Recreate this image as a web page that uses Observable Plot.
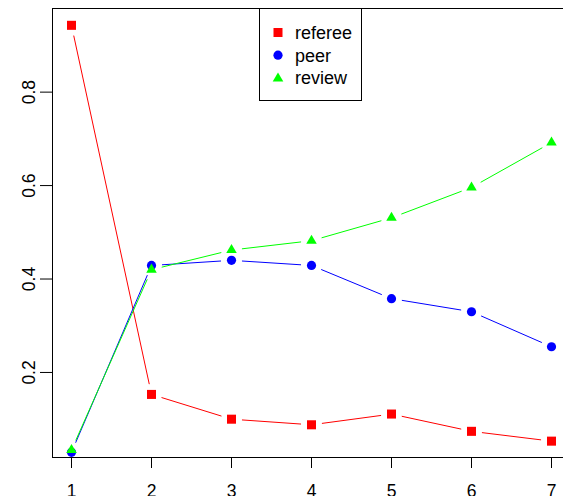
<!DOCTYPE html>
<html>
<head>
<meta charset="utf-8">
<script src="https://cdn.jsdelivr.net/npm/d3@7"></script>
<script src="https://cdn.jsdelivr.net/npm/@observablehq/plot@0.6"></script>
<style>
  body { margin: 0; background: #fff; }
  #wrap { position: relative; width: 563px; height: 496px; overflow: hidden; font-family: "Liberation Sans", Arial, Helvetica, sans-serif; }
  #legend { position: absolute; left: 259px; top: 8px; width: 101px; height: 91px; border: 1px solid #000; background: #fff; box-sizing: content-box; }
</style>
</head>
<body>
<div id="wrap"></div>
<script>
const xs = [1, 2, 3, 4, 5, 6, 7];
const referee = [0.943, 0.153, 0.100, 0.088, 0.111, 0.074, 0.053];
const peer = [0.029, 0.429, 0.440, 0.429, 0.358, 0.330, 0.255];
const review = [0.034, 0.420, 0.462, 0.482, 0.531, 0.596, 0.692];
const seriesNames = ["referee", "peer", "review"];
const seriesColors = ["#ff0000", "#0000ff", "#00ff00"];
const seriesSymbols = ["square", "circle", "triangle"];
const xTicks = [1, 2, 3, 4, 5, 6, 7];
const yTicks = [0.2, 0.4, 0.6, 0.8];

const allValues = [referee, peer, review];
const data = [];
seriesNames.forEach((name, i) => {
  xs.forEach((x, j) => data.push({series: name, x, y: allValues[i][j]}));
});

const xDom = [0.7625, 7.15];
const yDom = [0.018, 0.979];
const font = "Liberation Sans, Arial, Helvetica, sans-serif";
const GAP = 10.5; // R type="b" gap around points (px)

// render transform: shorten each segment at both ends, like R's type = "b"
function gapRender(index, scales, values, dimensions, context, next) {
  const x1 = Array.from(values.x1), y1 = Array.from(values.y1);
  const x2 = Array.from(values.x2), y2 = Array.from(values.y2);
  for (const i of index) {
    const dx = x2[i] - x1[i], dy = y2[i] - y1[i];
    const len = Math.hypot(dx, dy);
    if (len > 2 * GAP) {
      const ux = dx / len, uy = dy / len;
      const ax = values.x1[i], ay = values.y1[i];
      x1[i] = ax + ux * GAP; y1[i] = ay + uy * GAP;
      x2[i] = values.x2[i] - ux * GAP; y2[i] = values.y2[i] - uy * GAP;
    }
  }
  return next(index, scales, {...values, x1, y1, x2, y2}, dimensions, context);
}

const marks = [];
// box (left, top, bottom)
marks.push(Plot.ruleX([xDom[0]], {stroke: "#000", strokeWidth: 1}));
marks.push(Plot.ruleY([yDom[1]], {stroke: "#000", strokeWidth: 1}));
marks.push(Plot.ruleY([yDom[0]], {stroke: "#000", strokeWidth: 1}));

const sizes = {square: 5.1, circle: 4.6, triangle: 3.9};
seriesNames.forEach((name, i) => {
  const d = data.filter(r => r.series === name);
  const segs = d.slice(1).map((p, j) => ({a: d[j], b: p}));
  marks.push(Plot.link(segs, {x1: s => s.a.x, y1: s => s.a.y, x2: s => s.b.x, y2: s => s.b.y, stroke: seriesColors[i], strokeWidth: 1, render: gapRender}));
  marks.push(Plot.dot(d, {x: "x", y: "y", fill: seriesColors[i], stroke: "none", symbol: () => seriesSymbols[i], r: sizes[seriesSymbols[i]]}));
});

marks.push(Plot.axisX(xTicks, {tickSize: 11, tickPadding: 16, fontSize: 17.5, stroke: "#000", fill: "#000", label: null, tickFormat: d => String(d)}));
marks.push(Plot.axisY(yTicks, {tickSize: 12, tickPadding: 6, fontSize: 17.5, tickRotate: -90, stroke: "#000", fill: "#000", label: null, tickFormat: d => d.toFixed(1)}));

const chart = Plot.plot({
  width: 563,
  height: 496,
  marginLeft: 52,
  marginRight: 0,
  marginTop: 8,
  marginBottom: 39,
  x: {domain: xDom, label: null},
  y: {domain: yDom, label: null},
  symbol: {type: "identity"},
  style: {fontFamily: font, background: "#fff", overflow: "visible"},
  marks
});
document.getElementById("wrap").appendChild(chart);

// legend
const leg = document.createElement("div");
leg.id = "legend";
const ns = "http://www.w3.org/2000/svg";
const lsvg = document.createElementNS(ns, "svg");
lsvg.setAttribute("width", 101);
lsvg.setAttribute("height", 91);
lsvg.style.display = "block";
seriesNames.forEach((name, i) => {
  const cy = 23.5 + i * 22.7;
  const cx = 18;
  let shape;
  if (seriesSymbols[i] === "square") {
    shape = document.createElementNS(ns, "rect");
    shape.setAttribute("x", cx - 4.5); shape.setAttribute("y", cy - 4.5);
    shape.setAttribute("width", 9); shape.setAttribute("height", 9);
  } else if (seriesSymbols[i] === "circle") {
    shape = document.createElementNS(ns, "circle");
    shape.setAttribute("cx", cx); shape.setAttribute("cy", cy); shape.setAttribute("r", 4.6);
  } else {
    shape = document.createElementNS(ns, "path");
    shape.setAttribute("d", `M${cx},${cy - 5.5}L${cx + 5.3},${cy + 3.5}L${cx - 5.3},${cy + 3.5}Z`);
  }
  shape.setAttribute("fill", seriesColors[i]);
  lsvg.appendChild(shape);
  const t = document.createElementNS(ns, "text");
  t.setAttribute("x", 35);
  t.setAttribute("y", cy + 6.3);
  t.setAttribute("font-size", 18);
  t.setAttribute("font-family", font);
  t.textContent = name;
  lsvg.appendChild(t);
});
leg.appendChild(lsvg);
document.getElementById("wrap").appendChild(leg);
</script>
</body>
</html>
